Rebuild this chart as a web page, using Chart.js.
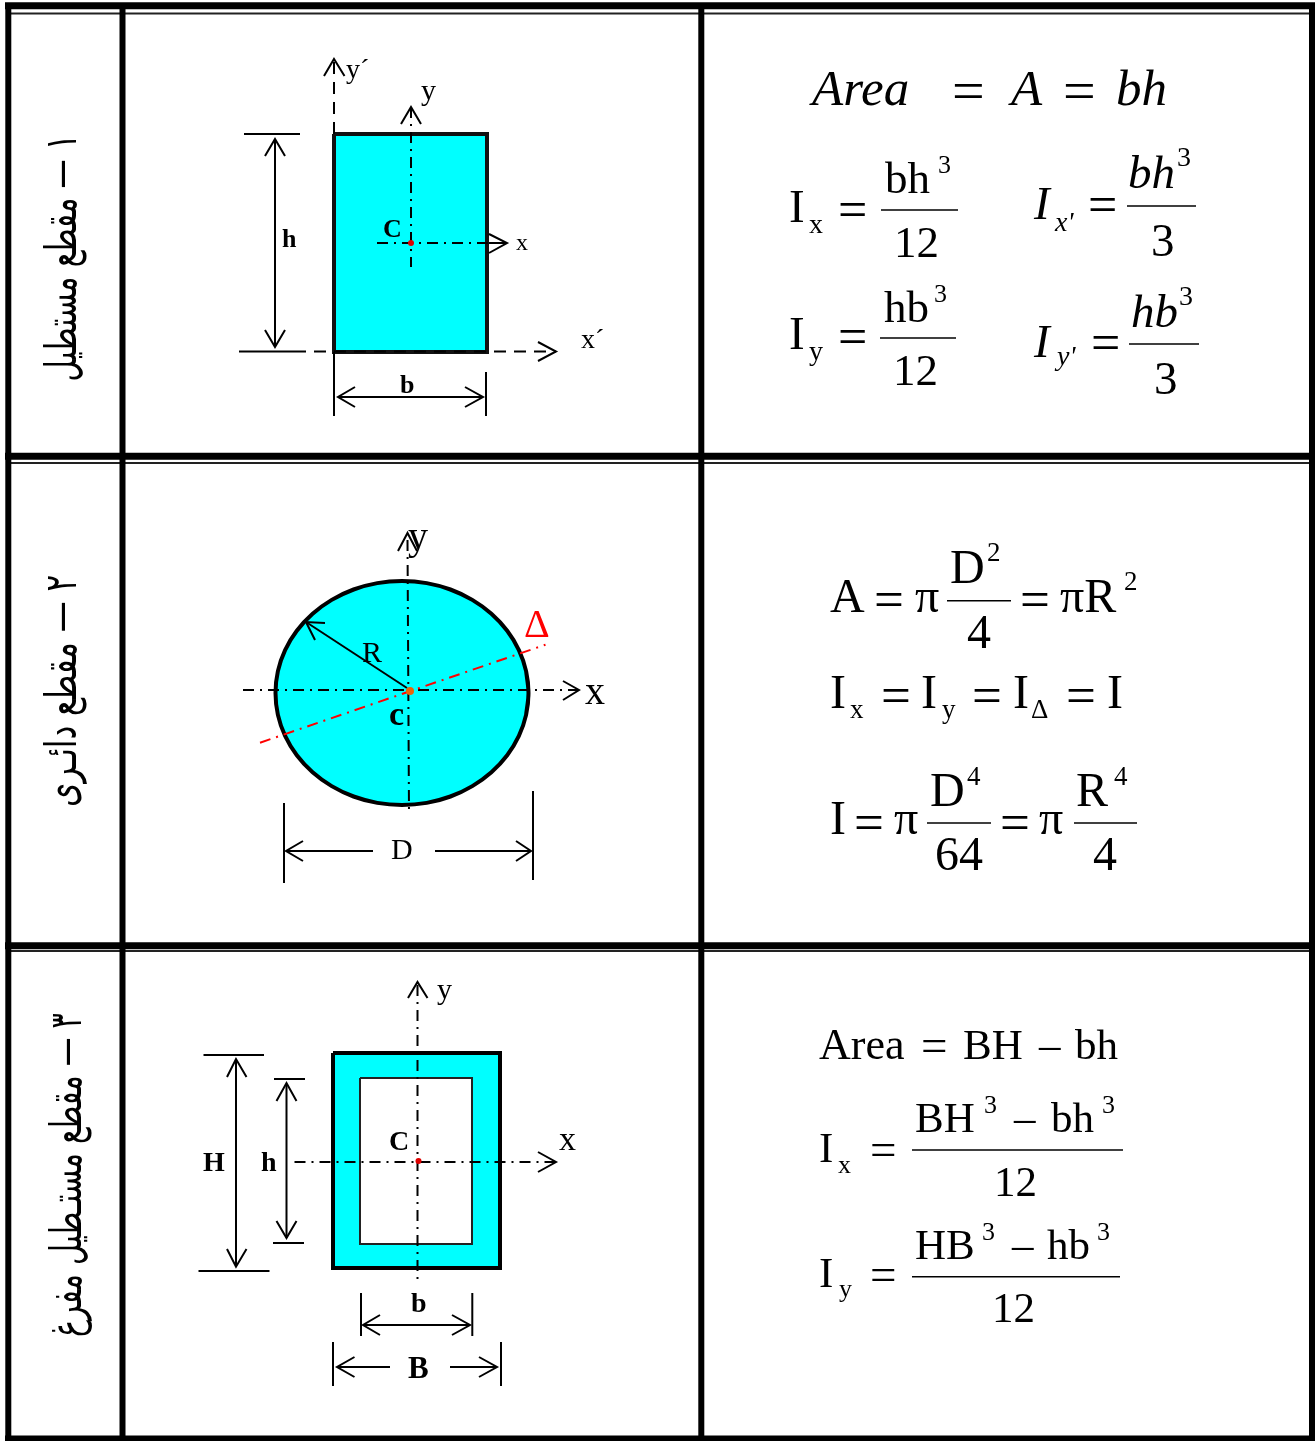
<!DOCTYPE html>
<html>
<head>
<meta charset="utf-8">
<style>
  html, body { margin: 0; padding: 0; background: #fff; }
  canvas { display: block; }
</style>
<script src="https://cdn.jsdelivr.net/npm/chart.js@4/dist/chart.umd.min.js"></script>
</head>
<body>
<canvas id="sections" width="1315" height="1441"></canvas>
<script>
// The axes of this chart are in units of the sheet, so every line below is [[x, y], [x, y], ...]

// table frame
const frameRows = [[[5, 5.7], [1315, 5.7]], [[5, 456.3], [1315, 456.3]], [[5, 945.7], [1315, 945.7]], [[5, 1439], [1315, 1439]]];
const frameColumns = [[[8.3, 3], [8.3, 1441]], [[122.5, 3], [122.5, 1441]], [[701.3, 3], [701.3, 1441]], [[1312, 3], [1312, 1441]]];
const frameThin = [[[8, 13.5], [1312, 13.5]], [[8, 463], [1312, 463]], [[8, 951], [1312, 951]]];

// section outlines
const rectOutline = [[334, 134], [487, 134], [487, 352], [334, 352], [334, 134]];
const circleOutline = [
    [526.1, 714.9], [528.5, 693], [526.1, 671.1], [518.9, 650.1], [507.2, 630.8], [491.4, 613.8], [472.3, 599.9], [450.4, 589.5], [426.7, 583.1],
    [402, 581], [377.3, 583.1], [353.6, 589.5], [331.7, 599.9], [312.6, 613.8], [296.8, 630.8], [285.1, 650.1], [277.9, 671.1],
    [275.5, 693], [277.9, 714.9], [285.1, 735.9], [296.8, 755.2], [312.6, 772.2], [331.7, 786.1], [353.6, 796.5], [377.3, 802.9],
    [402, 805], [426.7, 802.9], [450.4, 796.5], [472.3, 786.1], [491.4, 772.2], [507.2, 755.2], [518.9, 735.9], [526.1, 714.9], [528.5, 693], [526.1, 671.1]
];
const hollowOuter = [[333, 1053], [500, 1053], [500, 1268], [333, 1268], [333, 1053]];
const hollowInner = [[360, 1078], [472, 1078], [472, 1244], [360, 1244], [360, 1078]];

// centroidal axes
const dashDotAxes = [
    [[411, 107], [411, 267]], [[377, 243], [489, 243]],
    [[407.5, 540], [409, 813]], [[243, 690], [579, 690]],
    [[417.5, 985], [417.5, 1283]], [[294.5, 1162], [556, 1162]]
];
const redAxis = [[260, 742.7], [545.5, 644.7]];
const dashedAxes = [[[334, 62], [334, 134]], [[294, 351.5], [556, 351.5]], [[334, 352], [334, 366]]];

// dimension lines and extension ticks
const dimensionLines = [
    [[244, 134], [300, 134]], [[239, 351.5], [294, 351.5]], [[275, 139], [275, 347]],
    [[334, 363], [334, 416]], [[486, 372], [486, 416]], [[338, 397], [483, 397]],
    [[489, 243], [507, 243]], [[407, 688], [306, 622]],
    [[284, 803], [284, 883]], [[533, 791], [533, 880]], [[286, 851], [373, 851]], [[435, 851], [531, 851]],
    [[203.5, 1055], [264, 1055]], [[198.5, 1271], [269.5, 1271]], [[236, 1060], [236, 1266]],
    [[274, 1079], [305, 1079]], [[273, 1243], [304, 1243]], [[286.5, 1084], [286.5, 1238]],
    [[361, 1293], [361, 1336]], [[472.3, 1293], [472.3, 1336]], [[363, 1325], [470, 1325]],
    [[333, 1342], [333, 1386]], [[501, 1342], [501, 1386]], [[337, 1367], [390, 1367]], [[450, 1367], [497, 1367]]
];

// open arrow heads, wing - tip - wing
const arrowHeads = [
    [[324, 76], [334, 59], [344.5, 76]], [[401, 124], [411, 107], [421, 124]], [[489, 234], [507, 243], [489, 253]],
    [[538, 342], [556, 351.5], [538, 361]], [[265, 156], [275, 139], [285, 156]], [[265, 330], [275, 347], [285, 330]],
    [[355, 387], [338, 397], [355, 407]], [[465, 387], [483, 397], [465, 407]],
    [[398, 551], [407.5, 533], [417, 551]], [[563, 681], [579, 690], [563, 700]], [[325, 623], [306, 622], [315, 640]],
    [[303, 841], [286, 851], [303, 861]], [[516, 841], [531, 851], [516, 861]],
    [[408, 998], [417.5, 982], [427.5, 998]], [[538, 1152], [556, 1162], [538, 1172]],
    [[227, 1077], [236, 1059], [246.5, 1077]], [[227, 1249], [236, 1266.7], [246.5, 1249]],
    [[276.5, 1101], [286.5, 1083], [296.5, 1101]], [[276.5, 1221], [286.5, 1238], [296.5, 1221]],
    [[380, 1315], [363, 1325], [380, 1335]], [[452, 1315], [470, 1325], [452, 1335]],
    [[354.5, 1357], [337, 1367], [354.5, 1377]], [[479, 1357], [497, 1367], [479, 1377]]
];

// fraction bars
const fractionBars = [
    [[881, 210], [958, 210]], [[880, 338], [956, 338]], [[1127, 206], [1196, 206]], [[1129, 344], [1199, 344]],
    [[947, 600.7], [1011, 600.7]], [[927, 823], [991, 823]], [[1074, 823], [1137, 823]],
    [[912, 1150], [1123, 1150]], [[912, 1276.7], [1120, 1276.7]]
];

const centroids = [{ x: 411, y: 243 }, { x: 418.5, y: 1161 }];
const circleCentroid = [{ x: 410, y: 691 }];

// section names, rotated along the first column
const sectionNames = ['١ — مقطع مستطيل', '٢ — مقطع دائـرى', '٣ — مقطع مستـطيل مفرغ'];

// text, grouped by font: [text, x, baseline y]
const textGroups = [
    { font: 'italic 51px', rows: [['Area', 812, 105], ['A', 1011, 105], ['bh', 1116, 105]] },
    { font: '58px', rows: [['=', 952, 110], ['=', 1063, 110]] },
    { font: '52px', rows: [
        ['=', 838, 227], ['=', 838, 354], ['=', 1088, 222], ['=', 1091, 360]
    ] },
    { font: '47px', rows: [['I', 789, 222], ['I', 789, 349], ['3', 1151, 256], ['3', 1154, 394]] },
    { font: '45px', rows: [['bh', 885, 193], ['12', 894, 257], ['hb', 884, 322], ['12', 893, 385]] },
    { font: 'italic 47px', rows: [['I', 1034, 219], ['bh', 1128, 188], ['I', 1034, 357], ['hb', 1131, 327]] },
    { font: '28px', rows: [['x', 809, 233], ['y', 809, 360], ['3', 1177, 166], ['3', 1179, 305]] },
    { font: '26px', rows: [['3', 938, 173], ['3', 934, 302]] },
    { font: 'italic 28px', rows: [["x'", 1055, 231], ["y'", 1057, 365]] },
    { font: '48px', rows: [
        ['A', 830, 612], ['π', 915, 612], ['D', 950, 583], ['4', 967, 648], ['πR', 1060, 612],
        ['I', 830, 708], ['I', 921, 708], ['I', 1013, 708], ['I', 1107, 708],
        ['I', 830, 834], ['π', 894, 834], ['D', 930, 806], ['64', 935, 870], ['π', 1039, 834], ['R', 1076, 806], ['4', 1093, 870]
    ] },
    { font: '53px', rows: [
        ['=', 874, 617], ['=', 1020, 617], ['=', 881, 713], ['=', 972, 713], ['=', 1066, 713], ['=', 854, 840], ['=', 1000, 840]
    ] },
    { font: '27px', rows: [
        ['2', 987, 561], ['2', 1124, 590], ['x', 850, 718], ['y', 942, 718], ['Δ', 1031, 718], ['4', 967, 785], ['4', 1114, 785]
    ] },
    { font: '44px', rows: [['Area', 819, 1059]] },
    { font: '43px', rows: [
        ['BH', 963, 1059], ['–', 1039, 1059], ['bh', 1075, 1059],
        ['I', 819, 1162], ['BH', 915, 1132], ['–', 1014, 1132], ['bh', 1051, 1132], ['12', 994, 1196],
        ['I', 819, 1287], ['HB', 915, 1259], ['–', 1012, 1259], ['hb', 1047, 1259], ['12', 992, 1322]
    ] },
    { font: '47px', rows: [['=', 921, 1061], ['=', 870, 1165], ['=', 870, 1290]] },
    { font: '26px', rows: [
        ['x', 838, 1173], ['y', 839, 1297], ['3', 984, 1113], ['3', 1102, 1113], ['3', 982, 1240], ['3', 1097, 1240]
    ] },
    { font: '24px', rows: [['x', 516, 250]] },
    { font: '30px', rows: [['y', 421, 100], ['R', 362, 662], ['D', 391, 859], ['y', 437, 999]] },
    { font: '28px', rows: [['y´', 346, 78], ['x´', 581, 348]] },
    { font: '40px', rows: [['y', 408, 549], ['x', 585, 704]] },
    { font: '34px', rows: [['x', 559, 1150]] },
    { font: 'bold 26px', rows: [['C', 383, 237], ['h', 282, 247], ['b', 400, 393]] },
    { font: 'bold 34px', rows: [['c', 389, 725]] },
    { font: 'bold 28px', rows: [['C', 389, 1150], ['H', 203, 1171], ['h', 261, 1171], ['b', 411, 1312]] },
    { font: 'bold 31px', rows: [['B', 408, 1378]] },
    { font: '40px', color: '#ff0000', rows: [['Δ', 524, 637]] }
];

// [name index, x of column, y of the middle, length along the column]
const namePlacement = [[0, 76, 258, 247], [1, 76, 691, 232], [2, 81, 1175, 324]];

function lineSet(points, color, width, dash) {
    return {
        data: points.map(p => ({ x: p[0], y: p[1] })),
        showLine: true,
        borderColor: color,
        borderWidth: width,
        borderDash: dash || [],
        borderJoinStyle: 'miter',
        pointRadius: 0,
        fill: false,
        clip: false
    };
}

function shapeSet(points, fillColor, lineColor, width, tension) {
    const set = lineSet(points, lineColor, width);
    set.backgroundColor = fillColor;
    set.fill = 'shape';
    set.tension = tension || 0;
    return set;
}

function dotSet(points, color, radius) {
    return { data: points, showLine: false, pointRadius: radius, pointBackgroundColor: color, pointBorderWidth: 0 };
}

const dashDot = [11, 6, 2, 6];

let datasets = [
    shapeSet(rectOutline, '#00ffff', '#111', 4),
    shapeSet(circleOutline, '#00ffff', '#000', 4, 0.33),
    shapeSet(hollowOuter, '#00ffff', '#000', 4),
    shapeSet(hollowInner, '#ffffff', '#222', 2)
];
dashDotAxes.forEach(l => datasets.push(lineSet(l, '#000', 2, dashDot)));
datasets.push(lineSet(redAxis, '#ff0000', 2, dashDot));
dashedAxes.forEach(l => datasets.push(lineSet(l, '#000', 2, [12, 8])));
dimensionLines.forEach(l => datasets.push(lineSet(l, '#000', 2)));
arrowHeads.forEach(l => datasets.push(lineSet(l, '#000', 2)));
fractionBars.forEach(l => datasets.push(lineSet(l, '#000', 1.5)));
frameThin.forEach(l => datasets.push(lineSet(l, '#222', 2)));
frameRows.forEach(l => datasets.push(lineSet(l, '#000', 7)));
frameColumns.forEach(l => datasets.push(lineSet(l, '#000', 6)));
datasets.push(dotSet(centroids, '#e00000', 3));
datasets.push(dotSet(circleCentroid, '#e8650a', 4));

// later entries paint on top
datasets.forEach((d, i) => { d.order = -i; });

const textPlugin = {
    id: 'sheetText',
    afterDatasetsDraw(chart) {
        const { ctx, scales: { x, y } } = chart;
        ctx.save();
        ctx.textBaseline = 'alphabetic';
        ctx.textAlign = 'left';
        textGroups.forEach(group => {
            ctx.font = group.font + ' "Liberation Serif"';
            ctx.fillStyle = group.color || '#000';
            group.rows.forEach(r => ctx.fillText(r[0], x.getPixelForValue(r[1]), y.getPixelForValue(r[2])));
        });
        // Arabic section names read upwards along the first column
        ctx.font = '44px "DejaVu Sans"';
        ctx.direction = 'rtl';
        ctx.textAlign = 'center';
        ctx.fillStyle = '#000';
        namePlacement.forEach(p => {
            const text = sectionNames[p[0]];
            ctx.save();
            ctx.translate(x.getPixelForValue(p[1]), y.getPixelForValue(p[2]));
            ctx.rotate(-Math.PI / 2);
            ctx.scale(p[3] / ctx.measureText(text).width, 1);
            ctx.fillText(text, 0, 0);
            ctx.restore();
        });
        ctx.restore();
    }
};

new Chart(document.getElementById('sections').getContext('2d'), {
    type: 'scatter',
    data: { datasets: datasets },
    plugins: [textPlugin],
    options: {
        responsive: false,
        animation: false,
        layout: { padding: 0, autoPadding: false },
        plugins: { legend: { display: false }, tooltip: { enabled: false }, title: { display: false } },
        scales: {
            x: { type: 'linear', min: 0, max: 1315, display: false },
            y: { type: 'linear', min: 0, max: 1441, reverse: true, display: false }
        }
    }
});
</script>
</body>
</html>
